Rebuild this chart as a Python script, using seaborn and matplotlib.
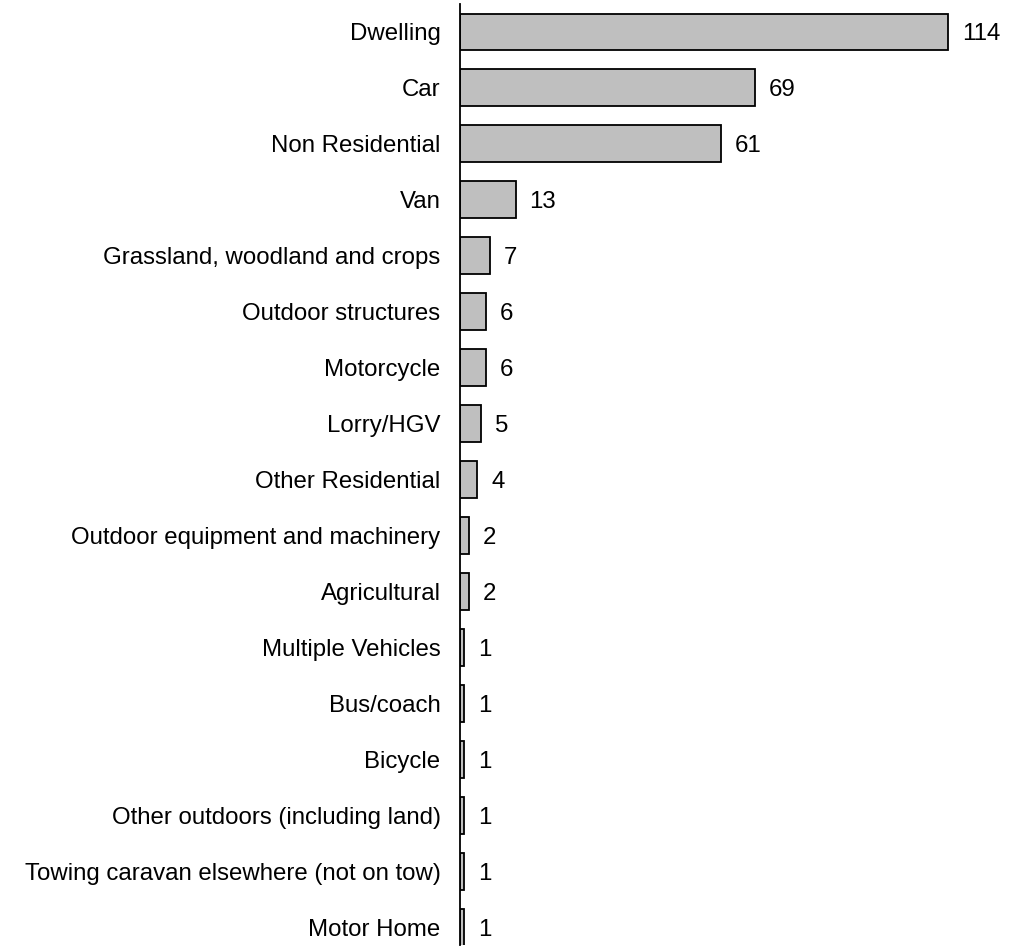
import matplotlib
matplotlib.use("Agg")
import matplotlib.pyplot as plt
import seaborn as sns
import pandas as pd

categories = ["Dwelling", "Car", "Non Residential", "Van", "Grassland, woodland and crops",
              "Outdoor structures", "Motorcycle", "Lorry/HGV", "Other Residential",
              "Outdoor equipment and machinery", "Agricultural", "Multiple Vehicles",
              "Bus/coach", "Bicycle", "Other outdoors (including land)",
              "Towing caravan elsewhere (not on tow)", "Motor Home"]
values = [114, 69, 61, 13, 7, 6, 6, 5, 4, 2, 2, 1, 1, 1, 1, 1, 1]

sns.set_theme(style="white")
plt.rcParams['font.family'] = ['Liberation Sans', 'DejaVu Sans']

df = pd.DataFrame({"category": categories, "value": values})

fig = plt.figure(figsize=(10.13, 9.49), dpi=100)
ax = fig.add_axes([460/1013, 4/949, 540/1013, 941/949])
sns.barplot(data=df, x="value", y="category", ax=ax, color="#bfbfbf",
            edgecolor="black", linewidth=1.3, width=0.66, saturation=1)
ax.set_xlim(0, 540/4.28)
ax.set_ylim(16.32, -0.50)
for s in ["top", "right", "bottom"]:
    ax.spines[s].set_visible(False)
ax.spines["left"].set_color("black")
ax.spines["left"].set_linewidth(1.3)
ax.set_xticks([])
ax.set_xlabel("")
ax.set_ylabel("")
ax.tick_params(axis="y", length=0, pad=14, labelsize=17.3, labelcolor="black")
for i, v in enumerate(values):
    ax.annotate(str(v), xy=(v, i), xytext=(10, 0), textcoords="offset points",
                va="center_baseline", ha="left", fontsize=17.3, color="black")
fig.savefig("out.png", dpi=100)
